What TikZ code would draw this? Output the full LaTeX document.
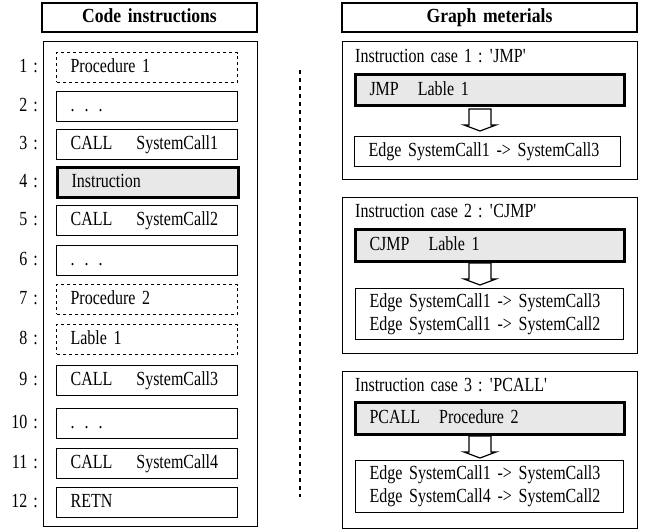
\documentclass[tikz,border=0pt]{standalone}
\usepackage{fontspec}
\setmainfont[FakeStretch=0.8,WordSpace=1.5,
  BoldFeatures={FakeStretch=0.88}]{Liberation Serif}
\usetikzlibrary{positioning,calc}
% hollow block arrow pointing down, top centre given
\newcommand*{\hollowdown}[1]{%
  \draw[line width=1.2pt,fill=white] (#1) ++(-11,0) -- ++(22,0) -- ++(0,16)
    -- ++(5,0) -- ++(-16,6) -- ++(-16,-6) -- ++(5,0) -- cycle;}

\begin{document}
\begin{tikzpicture}[x=1pt,y=-1pt,
  every node/.style={font=\fontsize{20}{23}\selectfont},
  thinbox/.style={draw,line width=1.2pt},
  head/.style={thinbox,minimum height=29pt,text height=14pt,text depth=4pt,
    font=\bfseries\fontsize{20}{23}\selectfont},
  panel/.style={thinbox,anchor=north west,minimum width=295pt},
  codeline/.style={thinbox,anchor=north west,text width=153pt,
    inner xsep=14pt,inner ysep=0pt,minimum height=29.5pt,align=left,
    text height=14pt,text depth=4pt},
  dashline/.style={codeline,dash pattern=on 3pt off 3pt},
  active/.style={codeline,line width=3pt,fill=gray!18},
  twoline/.style={codeline,text height=,text depth=},
  num/.style={inner sep=0pt,text height=14pt,text depth=4pt}]
\useasboundingbox (0,0) rectangle (649,530);
% Left column: the code listing
\node[head,minimum width=215pt] (ci) at (149.5,17.5) {Code instructions};
\node[thinbox,anchor=north west,minimum width=214pt,minimum height=485pt]
  (codepanel) at (43,41) {};
\node[dashline] (r1) at (56,52) {Procedure 1};
\node[codeline] (r2) at (56,91) {. . .};
\node[codeline] (r3) at (56,129) {CALL\hspace{24pt}SystemCall1};
\node[active] (r4) at (56,166) {Instruction};
\node[codeline] (r5) at (56,205) {CALL\hspace{24pt}SystemCall2};
\node[codeline] (r6) at (56,245) {. . .};
\node[dashline] (r7) at (56,284) {Procedure 2};
\node[dashline] (r8) at (56,324) {Lable 1};
\node[codeline] (r9) at (56,365) {CALL\hspace{24pt}SystemCall3};
\node[codeline] (r10) at (56,408) {. . .};
\node[codeline] (r11) at (56,448) {CALL\hspace{24pt}SystemCall4};
\node[codeline] (r12) at (56,487) {RETN};
% Line numbers
\foreach \n in {1,...,12}
  \node[num,left=18pt of r\n.west] (n\n) {\n\ :};
% Separator
\coordinate (sepa) at (300,70);
\coordinate (sepb) at (300,497);
\draw[line width=1.4pt,dash pattern=on 4pt off 4pt] (sepa) -- (sepb);
% Right column: graph materials
\node[head,minimum width=295pt] (gm) at (489.5,17.5) {Graph meterials};
% Case 1
\node[panel,minimum height=138pt] (case1) at (342,41) {};
\node[num,anchor=west] (t1) at (355,57)
  {Instruction case 1 : \textquotesingle JMP\textquotesingle};
\node[active,text width=241pt,minimum height=31pt] (jmp) at (354,73)
  {JMP\hspace{19pt}Lable 1};
\coordinate (a1) at (480,109);
\hollowdown{a1}
\node[codeline,text width=238pt,minimum height=30pt] (e1) at (354,136)
  {Edge SystemCall1 -> SystemCall3};
% Case 2
\node[panel,minimum height=156pt] (case2) at (342,197) {};
\node[num,anchor=west] (t2) at (355,212)
  {Instruction case 2 : \textquotesingle CJMP\textquotesingle};
\node[active,text width=241pt,minimum height=32pt] (cjmp) at (354,228)
  {CJMP\hspace{19pt}Lable 1};
\coordinate (a2) at (480,263);
\hollowdown{a2}
\node[twoline,text width=240pt,minimum height=51pt] (e2) at (355,288)
  {Edge SystemCall1 -> SystemCall3\\Edge SystemCall1 -> SystemCall2};
% Case 3
\node[panel,minimum height=157pt] (case3) at (342,371) {};
\node[num,anchor=west] (t3) at (355,386)
  {Instruction case 3 : \textquotesingle PCALL\textquotesingle};
\node[active,text width=241pt,minimum height=32pt] (pcall) at (354,401)
  {PCALL\hspace{19pt}Procedure 2};
\coordinate (a3) at (480,436);
\hollowdown{a3}
\node[twoline,text width=240pt,minimum height=52pt] (e3) at (355,460)
  {Edge SystemCall1 -> SystemCall3\\Edge SystemCall4 -> SystemCall2};
\end{tikzpicture}
\end{document}
